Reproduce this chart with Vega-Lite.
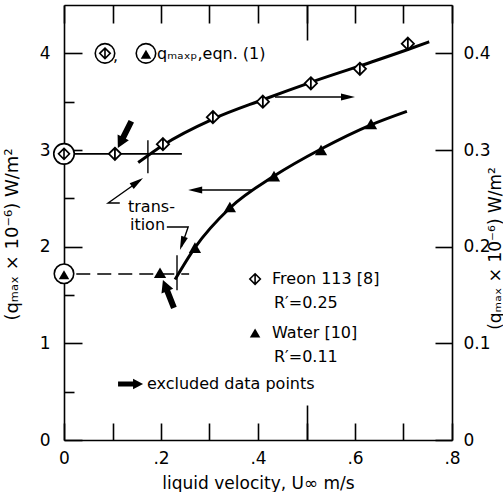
{
  "$schema": "https://vega.github.io/schema/vega-lite/v6.json",
  "width": 388,
  "height": 435,
  "autosize": "none",
  "padding": {"left": 64, "top": 5, "right": 51, "bottom": 52},
  "background": "white",
  "config": {
    "view": {"stroke": null},
    "font": "DejaVu Sans",
    "axis": {"grid": false, "domainColor": "black", "domainWidth": 1.6, "tickColor": "black", "tickWidth": 1.6, "labelColor": "black", "titleColor": "black", "labelFont": "DejaVu Sans", "titleFont": "DejaVu Sans", "labelFontSize": 17, "titleFontSize": 17, "titleFontWeight": "normal", "labelFlush": false, "labelOverlap": false}
  },
  "datasets": {
    "water": [{"u":0.198,"q":1.73},{"u":0.270,"q":1.99},{"u":0.342,"q":2.41},{"u":0.433,"q":2.73},{"u":0.530,"q":3.00},{"u":0.633,"q":3.27}],
    "waterFit": [{"u":0.229,"q":1.66},{"u":0.270,"q":1.99},{"u":0.342,"q":2.40},{"u":0.433,"q":2.73},{"u":0.530,"q":3.01},{"u":0.633,"q":3.26},{"u":0.707,"q":3.40}],
    "waterLevel": [{"u":-0.018,"u2":0.258,"q":1.717}],
    "waterTransition": [{"u":0.233,"q":1.55,"q2":1.91}],
    "rings": [{"u":0,"q":1.72},{"u":0.0845,"q":4.0},{"u":0.169,"q":4.0}],
    "triangleSymbols": [{"u":0,"q":1.71},{"u":0.169,"q":3.99},{"u":0.394,"q":1.107}],
    "diamondSymbols": [{"u":0.0845,"q":4.0},{"u":0.394,"q":1.665}],
    "labels": [
      {"u":0.192,"q":3.99,"t":"qₘₐₓₚ,eqn. (1)"},
      {"u":0.101,"q":3.97,"t":","},
      {"u":0.429,"q":1.665,"t":"Freon 113 [8]"},
      {"u":0.433,"q":1.42,"t":"R′=0.25"},
      {"u":0.429,"q":1.107,"t":"Water  [10]"},
      {"u":0.433,"q":0.86,"t":"R′=0.11"},
      {"u":0.171,"q":0.579,"t":"excluded  data  points"},
      {"u":0.132,"q":2.41,"t":"trans-"},
      {"u":0.136,"q":2.224,"t":"ition"}
    ],
    "arrowLines": [
      {"id":"freonAxis","i":1,"u":0.435,"q":3.548},{"id":"freonAxis","i":2,"u":0.59,"q":3.548},
      {"id":"waterAxis","i":1,"u":0.265,"q":2.586},{"id":"waterAxis","i":2,"u":0.388,"q":2.586},
      {"id":"trans","i":1,"u":0.115,"q":2.452},{"id":"trans","i":2,"u":0.091,"q":2.452},{"id":"trans","i":3,"u":0.158,"q":2.69},
      {"id":"ition","i":1,"u":0.212,"q":2.203},{"id":"ition","i":2,"u":0.256,"q":2.203},{"id":"ition","i":3,"u":0.242,"q":2.0}
    ],
    "arrowHeads": [
      {"dir":"right","u":0.600,"q":3.548},
      {"dir":"left","u":0.256,"q":2.586},
      {"dir":"upright","u":0.163,"q":2.710},
      {"dir":"downleft","u":0.239,"q":1.965}
    ],
    "fatArrows": [
      {"dir":"freon","u":0.111,"q":3.02},
      {"dir":"water","u":0.204,"q":1.655},
      {"dir":"legend","u":0.163,"q":0.579}
    ],
    "freon": [{"u":0.105,"q":0.296},{"u":0.204,"q":0.306},{"u":0.307,"q":0.334},{"u":0.410,"q":0.350},{"u":0.509,"q":0.369},{"u":0.610,"q":0.384},{"u":0.709,"q":0.410}],
    "freonFit": [{"u":0.153,"q":0.287},{"u":0.204,"q":0.305},{"u":0.307,"q":0.332},{"u":0.410,"q":0.352},{"u":0.509,"q":0.370},{"u":0.610,"q":0.387},{"u":0.709,"q":0.404},{"u":0.753,"q":0.412}],
    "freonLevel": [{"u":0,"u2":0.243,"q":0.296}],
    "freonTransition": [{"u":0.173,"q":0.276,"q2":0.310}],
    "freonPredicted": [{"u":0,"q":0.296}]
  },
  "layer": [
    {
      "layer": [
        {
          "data": {"name": "waterLevel"},
          "mark": {"type": "rule", "strokeDash": [14, 7], "strokeWidth": 1.6, "color": "black"},
          "encoding": {
            "x": {"field": "u", "type": "quantitative", "scale": {"domain": [0, 0.8], "nice": false},
              "axis": {"orient": "bottom", "values": [0,0.1,0.2,0.3,0.4,0.5,0.6,0.7,0.8],
                "tickSize": -17,
                "labelPadding": 27,
                "labelExpr": "round(datum.value*10) % 2 === 1 ? '' : (datum.value === 0 ? '0' : replace(format(datum.value, '.1f'), '0.', '.'))",
                "title": "liquid  velocity,  U∞  m/s", "titleX": 194, "titleY": 43, "titleBaseline": "middle", "titleAlign": "center"}},
            "x2": {"field": "u2"},
            "y": {"field": "q", "type": "quantitative", "scale": {"domain": [0, 4.5], "nice": false},
              "axis": {"orient": "left", "values": [0,1,2,3,4],
                "tickSize": -18,
                "labelPadding": 32,
                "format": "d",
                "title": "(qₘₐₓ × 10⁻⁶)  W/m²", "titleX": -52, "titleY": 229, "titleAngle": 270, "titleBaseline": "middle", "titleAlign": "center", "titleFontSize": 18}}
          }
        },
        {
          "data": {"name": "waterTransition"},
          "mark": {"type": "rule", "strokeWidth": 1.4, "color": "black"},
          "encoding": {
            "x": {"field": "u", "type": "quantitative", "scale": {"domain": [0, 0.8], "nice": false},
              "axis": {"orient": "bottom", "values": [0.5], "tickSize": -35, "labels": false, "domain": false, "title": null}},
            "y": {"field": "q", "type": "quantitative", "scale": {"domain": [0, 4.5], "nice": false},
              "axis": {"orient": "left", "values": [0.5,1.5,2.5,3.5], "tickSize": -10, "labels": false, "domain": false, "title": null}},
            "y2": {"field": "q2"}
          }
        },
        {
          "data": {"name": "waterFit"},
          "mark": {"type": "line", "interpolate": "monotone", "strokeWidth": 3, "color": "black"},
          "encoding": {
            "x": {"field": "u", "type": "quantitative", "scale": {"domain": [0, 0.8], "nice": false}, "axis": null},
            "y": {"field": "q", "type": "quantitative", "scale": {"domain": [0, 4.5], "nice": false}, "axis": null}
          }
        },
        {
          "data": {"name": "water"},
          "mark": {"type": "point", "shape": "triangle-up", "size": 150, "filled": true, "color": "black", "opacity": 1},
          "encoding": {
            "x": {"field": "u", "type": "quantitative", "scale": {"domain": [0, 0.8], "nice": false}, "axis": null},
            "y": {"field": "q", "type": "quantitative", "scale": {"domain": [0, 4.5], "nice": false}, "axis": null}
          }
        },
        {
          "data": {"name": "rings"},
          "mark": {"type": "point", "shape": "circle", "size": 380, "filled": true, "fill": "white", "stroke": "black", "strokeWidth": 1.6, "opacity": 1},
          "encoding": {
            "x": {"field": "u", "type": "quantitative", "scale": {"domain": [0, 0.8], "nice": false}, "axis": null},
            "y": {"field": "q", "type": "quantitative", "scale": {"domain": [0, 4.5], "nice": false}, "axis": null}
          }
        },
        {
          "data": {"name": "triangleSymbols"},
          "mark": {"type": "point", "shape": "triangle-up", "size": 110, "filled": true, "color": "black", "opacity": 1},
          "encoding": {
            "x": {"field": "u", "type": "quantitative", "scale": {"domain": [0, 0.8], "nice": false}, "axis": null},
            "y": {"field": "q", "type": "quantitative", "scale": {"domain": [0, 4.5], "nice": false}, "axis": null}
          }
        },
        {
          "data": {"name": "diamondSymbols"},
          "mark": {"type": "point", "shape": "M0,-1L1,0L0,1L-1,0Z M0,-1L0,1", "size": 110, "filled": true, "fill": "white", "stroke": "black", "strokeWidth": 1.6, "opacity": 1},
          "encoding": {
            "x": {"field": "u", "type": "quantitative", "scale": {"domain": [0, 0.8], "nice": false}, "axis": null},
            "y": {"field": "q", "type": "quantitative", "scale": {"domain": [0, 4.5], "nice": false}, "axis": null}
          }
        },
        {
          "data": {"name": "labels"},
          "mark": {"type": "text", "align": "left", "baseline": "middle", "fontSize": 16, "font": "DejaVu Sans", "color": "black"},
          "encoding": {
            "x": {"field": "u", "type": "quantitative", "scale": {"domain": [0, 0.8], "nice": false}, "axis": null},
            "y": {"field": "q", "type": "quantitative", "scale": {"domain": [0, 4.5], "nice": false}, "axis": null},
            "text": {"field": "t"}
          }
        },
        {
          "data": {"name": "arrowLines"},
          "mark": {"type": "line", "strokeWidth": 1.4, "color": "black", "strokeCap": "butt"},
          "encoding": {
            "x": {"field": "u", "type": "quantitative", "scale": {"domain": [0, 0.8], "nice": false}, "axis": null},
            "y": {"field": "q", "type": "quantitative", "scale": {"domain": [0, 4.5], "nice": false}, "axis": null},
            "detail": {"field": "id"},
            "order": {"field": "i"}
          }
        },
        {
          "data": {"name": "arrowHeads"},
          "transform": [{"filter": "datum.dir === 'right'"}],
          "mark": {"type": "point", "shape": "M0,0L-2,-0.5L-2,0.5Z", "size": 196, "angle": 0, "filled": true, "color": "black", "opacity": 1},
          "encoding": {
            "x": {"field": "u", "type": "quantitative", "scale": {"domain": [0, 0.8], "nice": false}, "axis": null},
            "y": {"field": "q", "type": "quantitative", "scale": {"domain": [0, 4.5], "nice": false}, "axis": null}
          }
        },
        {
          "data": {"name": "arrowHeads"},
          "transform": [{"filter": "datum.dir === 'left'"}],
          "mark": {"type": "point", "shape": "M0,0L-2,-0.5L-2,0.5Z", "size": 196, "angle": 180, "filled": true, "color": "black", "opacity": 1},
          "encoding": {
            "x": {"field": "u", "type": "quantitative", "scale": {"domain": [0, 0.8], "nice": false}, "axis": null},
            "y": {"field": "q", "type": "quantitative", "scale": {"domain": [0, 4.5], "nice": false}, "axis": null}
          }
        },
        {
          "data": {"name": "arrowHeads"},
          "transform": [{"filter": "datum.dir === 'upright'"}],
          "mark": {"type": "point", "shape": "M0,0L-2,-0.5L-2,0.5Z", "size": 196, "angle": 324.5, "filled": true, "color": "black", "opacity": 1},
          "encoding": {
            "x": {"field": "u", "type": "quantitative", "scale": {"domain": [0, 0.8], "nice": false}, "axis": null},
            "y": {"field": "q", "type": "quantitative", "scale": {"domain": [0, 4.5], "nice": false}, "axis": null}
          }
        },
        {
          "data": {"name": "arrowHeads"},
          "transform": [{"filter": "datum.dir === 'downleft'"}],
          "mark": {"type": "point", "shape": "M0,0L-2,-0.5L-2,0.5Z", "size": 196, "angle": 109.2, "filled": true, "color": "black", "opacity": 1},
          "encoding": {
            "x": {"field": "u", "type": "quantitative", "scale": {"domain": [0, 0.8], "nice": false}, "axis": null},
            "y": {"field": "q", "type": "quantitative", "scale": {"domain": [0, 4.5], "nice": false}, "axis": null}
          }
        },
        {
          "data": {"name": "fatArrows"},
          "transform": [{"filter": "datum.dir === 'freon'"}],
          "mark": {"type": "point", "shape": "M0,0L0.42,0.8L0.2,0.8L0.2,2L-0.2,2L-0.2,0.8L-0.42,0.8Z", "size": 900, "angle": 206.7, "filled": true, "color": "black", "opacity": 1},
          "encoding": {
            "x": {"field": "u", "type": "quantitative", "scale": {"domain": [0, 0.8], "nice": false}, "axis": null},
            "y": {"field": "q", "type": "quantitative", "scale": {"domain": [0, 4.5], "nice": false}, "axis": null}
          }
        },
        {
          "data": {"name": "fatArrows"},
          "transform": [{"filter": "datum.dir === 'water'"}],
          "mark": {"type": "point", "shape": "M0,0L0.42,0.8L0.2,0.8L0.2,2L-0.2,2L-0.2,0.8L-0.42,0.8Z", "size": 900, "angle": 338.5, "filled": true, "color": "black", "opacity": 1},
          "encoding": {
            "x": {"field": "u", "type": "quantitative", "scale": {"domain": [0, 0.8], "nice": false}, "axis": null},
            "y": {"field": "q", "type": "quantitative", "scale": {"domain": [0, 4.5], "nice": false}, "axis": null}
          }
        },
        {
          "data": {"name": "fatArrows"},
          "transform": [{"filter": "datum.dir === 'legend'"}],
          "mark": {"type": "point", "shape": "M0,0L0.42,0.8L0.2,0.8L0.2,2L-0.2,2L-0.2,0.8L-0.42,0.8Z", "size": 625, "angle": 90, "filled": true, "color": "black", "opacity": 1},
          "encoding": {
            "x": {"field": "u", "type": "quantitative", "scale": {"domain": [0, 0.8], "nice": false}, "axis": null},
            "y": {"field": "q", "type": "quantitative", "scale": {"domain": [0, 4.5], "nice": false}, "axis": null}
          }
        }
      ],
      "resolve": {"axis": {"x": "independent", "y": "independent"}}
    },
    {
      "layer": [
        {
          "data": {"name": "freonLevel"},
          "mark": {"type": "rule", "strokeWidth": 1.6, "color": "black"},
          "encoding": {
            "x": {"field": "u", "type": "quantitative", "scale": {"domain": [0, 0.8], "nice": false},
              "axis": {"orient": "top", "values": [0,0.1,0.2,0.3,0.4,0.5,0.6,0.7,0.8],
                "tickSize": -18, "labels": false, "title": null}},
            "x2": {"field": "u2"},
            "y": {"field": "q", "type": "quantitative", "scale": {"domain": [0, 0.45], "nice": false},
              "axis": {"orient": "right", "values": [0,0.1,0.2,0.3,0.4], "tickSize": -17, "labelPadding": 28,
                "labelExpr": "datum.value === 0 ? '0' : format(datum.value, '.1f')",
                "title": "(qₘₐₓ × 10⁻⁶)  W/m²", "titleX": 43, "titleY": 243, "titleAngle": 270, "titleBaseline": "middle", "titleAlign": "center"}}
          }
        },
        {
          "data": {"name": "freonTransition"},
          "mark": {"type": "rule", "strokeWidth": 1.4, "color": "black"},
          "encoding": {
            "x": {"field": "u", "type": "quantitative", "scale": {"domain": [0, 0.8], "nice": false},
              "axis": {"orient": "top", "values": [0.5], "tickSize": -35, "labels": false, "domain": false, "title": null}},
            "y": {"field": "q", "type": "quantitative", "scale": {"domain": [0, 0.45], "nice": false}, "axis": null},
            "y2": {"field": "q2"}
          }
        },
        {
          "data": {"name": "freonFit"},
          "mark": {"type": "line", "interpolate": "monotone", "strokeWidth": 3, "color": "black"},
          "encoding": {
            "x": {"field": "u", "type": "quantitative", "scale": {"domain": [0, 0.8], "nice": false}, "axis": null},
            "y": {"field": "q", "type": "quantitative", "scale": {"domain": [0, 0.45], "nice": false}, "axis": null}
          }
        },
        {
          "data": {"name": "freon"},
          "mark": {"type": "point", "shape": "M0,-1L1,0L0,1L-1,0Z M0,-1L0,1", "size": 150, "filled": true, "fill": "white", "stroke": "black", "strokeWidth": 1.8, "opacity": 1},
          "encoding": {
            "x": {"field": "u", "type": "quantitative", "scale": {"domain": [0, 0.8], "nice": false}, "axis": null},
            "y": {"field": "q", "type": "quantitative", "scale": {"domain": [0, 0.45], "nice": false}, "axis": null}
          }
        },
        {
          "data": {"name": "freonPredicted"},
          "mark": {"type": "point", "shape": "circle", "size": 420, "filled": true, "fill": "white", "stroke": "black", "strokeWidth": 1.6, "opacity": 1},
          "encoding": {
            "x": {"field": "u", "type": "quantitative", "scale": {"domain": [0, 0.8], "nice": false}, "axis": null},
            "y": {"field": "q", "type": "quantitative", "scale": {"domain": [0, 0.45], "nice": false}, "axis": null}
          }
        },
        {
          "data": {"name": "freonPredicted"},
          "mark": {"type": "point", "shape": "M0,-1L1,0L0,1L-1,0Z M0,-1L0,1", "size": 120, "filled": true, "fill": "white", "stroke": "black", "strokeWidth": 1.6, "opacity": 1},
          "encoding": {
            "x": {"field": "u", "type": "quantitative", "scale": {"domain": [0, 0.8], "nice": false}, "axis": null},
            "y": {"field": "q", "type": "quantitative", "scale": {"domain": [0, 0.45], "nice": false}, "axis": null}
          }
        }
      ],
      "resolve": {"axis": {"x": "independent", "y": "independent"}}
    }
  ],
  "resolve": {"scale": {"y": "independent"}, "axis": {"x": "independent", "y": "independent"}}
}
